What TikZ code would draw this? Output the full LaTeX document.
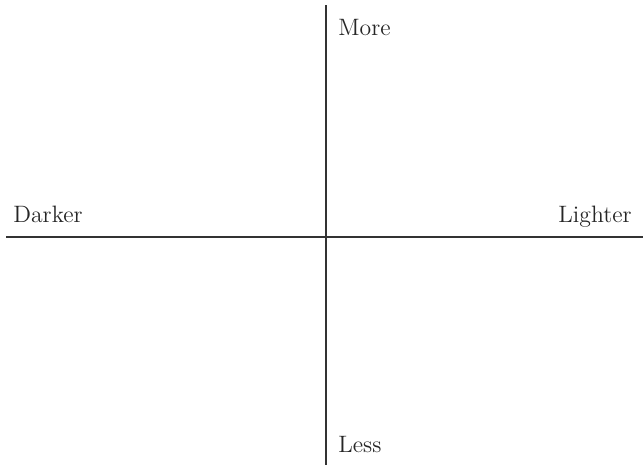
\documentclass[tikz,border=0pt]{standalone}
\usepackage{tikz}
\usetikzlibrary{positioning}

\begin{document}
\begin{tikzpicture}[
  x=0.02cm, y=-0.02cm,
  font=\fontsize{13.5}{16}\selectfont,
  axis/.style={draw=black!80, line width=0.9pt},
  lbl/.style={inner sep=0pt, text=black!85},
]
\useasboundingbox (0,0) rectangle (644,467);

\coordinate (top)    at (326,5);
\coordinate (bottom) at (326,465);
\coordinate (left)   at (6,237);
\coordinate (right)  at (643,237);

\node[lbl, anchor=base west] (more)    at (338,35)  {More};
\node[lbl, anchor=base west] (less)    at (338,452) {Less};
\node[lbl, anchor=base west] (darker)  at (13,222)  {Darker};
\node[lbl, anchor=base east] (lighter) at (632,222) {Lighter};

\draw[axis] (top) -- (bottom);
\draw[axis] (left) -- (right);

\end{tikzpicture}
\end{document}
